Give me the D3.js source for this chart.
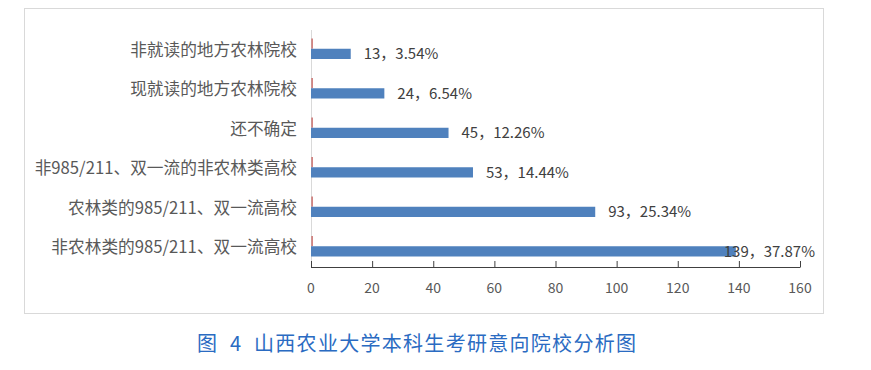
<!DOCTYPE html>
<html><head><meta charset="utf-8">
<script src="https://cdn.jsdelivr.net/npm/d3@7/dist/d3.min.js"></script>
<style>body{margin:0;background:#fff}svg{display:block}</style>
</head><body>
<svg id="c" width="871" height="370"></svg>
<script>
const categories = ["非就读的地方农林院校","现就读的地方农林院校","还不确定","非985/211、双一流的非农林类高校","农林类的985/211、双一流高校","非农林类的985/211、双一流高校"];
const counts = [13,24,45,53,93,139];
const shares = [0.0354,0.0654,0.1226,0.1444,0.2534,0.3787];
const shareLabels = ["3.54%","6.54%","12.26%","14.44%","25.34%","37.87%"];
const xTicks = [0,20,40,60,80,100,120,140,160];
const caption = "山西农业大学本科生考研意向院校分析图";

const svg = d3.select("#c");
const font = "'Noto Sans CJK SC','Noto Sans',sans-serif";
svg.append("rect").attr("x",24.5).attr("y",8.5).attr("width",799).attr("height",305)
  .attr("fill","#fff").attr("stroke","#d9d9d9");

const x = d3.scaleLinear().domain([0,160]).range([311,800]);
const y = d3.scaleBand().domain(categories).range([30,267]);
const sub = d3.scaleBand().domain(["share","count"]).range([8.5,29]);

// vertical axis line
svg.append("line").attr("x1",311.5).attr("x2",311.5).attr("y1",30).attr("y2",267).attr("stroke","#d9d9d9");

const g = svg.append("g");
categories.forEach((c,i)=>{
  g.append("rect").attr("x",x(0)+0.5).attr("y",y(c)+sub("share")).attr("width",Math.max(1.2,x(shares[i])-x(0))).attr("height",sub.bandwidth()).attr("fill","#C0504D");
  g.append("rect").attr("x",x(0)).attr("y",y(c)+sub("count")).attr("width",x(counts[i])-x(0)).attr("height",sub.bandwidth()).attr("fill","#4F81BD");
  g.append("text").attr("x",297).attr("y",y(c)+y.bandwidth()/2).attr("dy","0.35em").attr("text-anchor","end")
    .attr("font-family",font).attr("font-size",16.7).attr("fill","#595959").text(c);
  const t = g.append("text").attr("x",x(counts[i])+13).attr("y",y(c)+sub("count")+sub.bandwidth()/2).attr("dy","0.35em")
    .attr("font-family",font).attr("font-size",15).attr("fill","#404040").text(counts[i]+"，"+shareLabels[i]);
  const w = t.node().getComputedTextLength();
  if (x(counts[i])+13+w > 815) t.attr("x",815).attr("text-anchor","end");
});

// x axis
const ax = svg.append("g").attr("transform","translate(0,267)")
  .call(d3.axisTop(x).tickValues(xTicks).tickSize(6).tickFormat(""));
ax.select(".domain").attr("stroke","#404040").attr("d","M311,0.5H800.5");
ax.selectAll(".tick line").attr("stroke","#404040");
svg.append("g").selectAll("text").data(xTicks).join("text")
  .attr("x",d=>x(d)).attr("y",288).attr("dy","0.35em").attr("text-anchor","middle")
  .attr("font-family",font).attr("font-size",14).attr("fill","#595959").text(d=>d);

// caption
const cap = svg.append("g").attr("font-family",font).attr("font-size",20).attr("fill","#2A6BC2");
cap.append("text").attr("x",197).attr("y",344).attr("dy","0.35em").text("图");
cap.append("text").attr("x",230).attr("y",344).attr("dy","0.35em").text("4");
cap.append("text").attr("x",254).attr("y",344).attr("dy","0.35em").attr("textLength",382).attr("lengthAdjust","spacing").text(caption);
</script>
</body></html>
